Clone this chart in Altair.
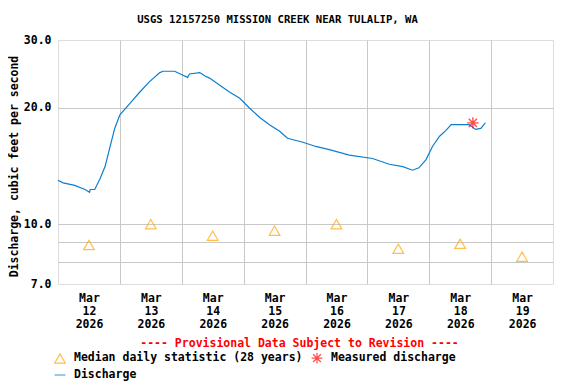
import altair as alt
import pandas as pd

TITLE = "USGS 12157250 MISSION CREEK NEAR TULALIP, WA"
Y_TITLE = "Discharge, cubic feet per second"
NOTE = "---- Provisional Data Subject to Revision ----"
SERIES = ["Median daily statistic (28 years)", "Measured discharge", "Discharge"]

discharge_time = [
    "2026-03-12T00:00", "2026-03-12T02:00", "2026-03-12T06:30", "2026-03-12T10:30",
    "2026-03-12T12:15", "2026-03-12T12:30", "2026-03-12T14:15", "2026-03-12T16:15",
    "2026-03-12T18:15", "2026-03-12T20:00", "2026-03-12T22:00", "2026-03-13T00:00",
    "2026-03-13T04:00", "2026-03-13T07:45", "2026-03-13T11:30", "2026-03-13T15:30",
    "2026-03-13T16:45", "2026-03-13T21:15", "2026-03-14T00:30", "2026-03-14T02:15",
    "2026-03-14T03:00", "2026-03-14T07:00", "2026-03-14T09:00", "2026-03-14T10:45",
    "2026-03-14T14:45", "2026-03-14T18:30", "2026-03-14T22:30", "2026-03-15T02:15",
    "2026-03-15T06:15", "2026-03-15T10:00", "2026-03-15T14:00", "2026-03-15T17:00",
    "2026-03-15T23:00", "2026-03-16T04:00", "2026-03-16T09:15", "2026-03-16T17:00",
    "2026-03-17T02:00", "2026-03-17T08:30", "2026-03-17T13:45", "2026-03-17T17:30",
    "2026-03-17T20:00", "2026-03-17T22:45", "2026-03-18T01:15", "2026-03-18T04:00",
    "2026-03-18T06:30", "2026-03-18T08:30", "2026-03-18T15:30", "2026-03-18T18:00",
    "2026-03-18T20:00", "2026-03-18T21:45",
]
discharge_cfs = [
    13.0, 12.8, 12.6, 12.3,
    12.1, 12.3, 12.3, 13.1,
    14.1, 15.7, 17.7, 19.2,
    20.6, 22.0, 23.4, 24.7,
    24.9, 24.9, 24.3, 24.0,
    24.5, 24.7, 24.2, 23.9,
    22.9, 22.0, 21.2, 20.0,
    18.9, 18.1, 17.4, 16.7,
    16.3, 15.9, 15.6, 15.1,
    14.8, 14.3, 14.1, 13.8,
    14.0, 14.7, 15.9, 16.9,
    17.5, 18.1, 18.1, 17.6,
    17.7, 18.3,
]

median_time = [
    "2026-03-12T12:00", "2026-03-13T12:00", "2026-03-14T12:00", "2026-03-15T12:00",
    "2026-03-16T12:00", "2026-03-17T12:00", "2026-03-18T12:00", "2026-03-19T12:00",
]
median_cfs = [8.83, 10.0, 9.34, 9.62, 10.0, 8.64, 8.90, 8.24]

measured_time = ["2026-03-18T16:55"]
measured_cfs = [18.3]

FONT = "DejaVu Sans Mono"
FS = 11.5
ASTERISK = "M-1,0L1,0M0,-1L0,1M-0.72,-0.72L0.72,0.72M-0.72,0.72L0.72,-0.72"

df_q = pd.DataFrame({"time": discharge_time, "cfs": discharge_cfs, "series": SERIES[2]})
df_m = pd.DataFrame({"time": median_time, "cfs": median_cfs, "series": SERIES[0]})
df_s = pd.DataFrame({"time": measured_time, "cfs": measured_cfs, "series": SERIES[1]})

color_scale = alt.Scale(domain=SERIES, range=["#ffa500", "#ff0000", "#0a7fd0"])
shape_scale = alt.Scale(domain=SERIES, range=["triangle-up", ASTERISK, "stroke"])

legend = alt.Legend(
    title=None, orient="none", legendX=-4, legendY=312, columns=2,
    direction="horizontal", padding=0, rowPadding=3, columnPadding=6,
    labelFont=FONT, labelFontSize=FS, labelFontWeight="bold", labelColor="black",
    labelOffset=8, symbolSize=115, symbolStrokeWidth=1.2, labelLimit=400,
)

day_ticks = [alt.DateTime(year=2026, month=3, date=d) for d in range(12, 20)]

x = alt.X(
    "time:T",
    scale=alt.Scale(domain=[alt.DateTime(year=2026, month=3, date=12),
                            alt.DateTime(year=2026, month=3, date=20)]),
    axis=alt.Axis(
        values=day_ticks,
        labelExpr="[timeFormat(datum.value, '%b'), timeFormat(datum.value, '%d'), timeFormat(datum.value, '%Y')]",
        labelOffset=31, labelPadding=8, labelLineHeight=13, labelBaseline="top",
        labelFont=FONT, labelFontSize=FS, labelFontWeight="bold", labelColor="black",
        labelOverlap=False, labelFlush=False,
        ticks=False, domain=False,
        grid=True, gridColor="#c8c8c8",
        gridOpacity={"condition": {"test": "datum.value < time(datetime(2026, 2, 12, 1))", "value": 0}, "value": 1},
        title=NOTE, titleColor="#ff0000", titleFont=FONT, titleFontSize=FS,
        titleFontWeight="bold", titleX=241, titleY=59, titleBaseline="middle",
        titleAlign="center",
    ),
)
y = alt.Y(
    "cfs:Q",
    scale=alt.Scale(type="log", domain=[7, 30], nice=False),
    axis=alt.Axis(
        values=[7, 8, 9, 10, 20, 30],
        labelExpr="datum.value == 8 || datum.value == 9 ? '' : format(datum.value, '.1f')",
        labelPadding=7, labelFont=FONT, labelFontSize=FS, labelFontWeight="bold",
        labelColor="black", labelOverlap=False, labelFlush=False,
        ticks=False, domain=False,
        grid=True, gridColor="#c8c8c8",
        gridOpacity={"condition": {"test": "datum.value == 7 || datum.value == 30", "value": 0}, "value": 1},
        title=Y_TITLE, titleFont=FONT, titleFontSize=FS, titleFontWeight="bold",
        titleColor="black", titleX=-44, titleY=126, titleAngle=-90,
        titleBaseline="middle", titleAlign="center",
    ),
)

color = alt.Color("series:N", scale=color_scale, legend=legend)
shape = alt.Shape("series:N", scale=shape_scale, legend=legend)

line = alt.Chart(df_q).mark_line(strokeWidth=1.2).encode(x=x, y=y, color=color)
medians = alt.Chart(df_m).mark_point(filled=False, size=115, strokeWidth=1.2).encode(
    x=x, y=y, color=color, shape=shape)
measured = alt.Chart(df_s).mark_point(filled=False, size=130, strokeWidth=1.3).encode(
    x=x, y=y, color=color, shape=shape)

chart = alt.layer(line, medians, measured).properties(
    width=495, height=244,
    title=alt.TitleParams(TITLE, font=FONT, fontSize=10.6, fontWeight="bold",
                          color="black", offset=8, anchor="middle", dx=-28),
    autosize=alt.AutoSizeParams(type="none"),
    padding={"left": 50, "top": 32, "right": 10, "bottom": 100},
).configure_view(stroke="black", strokeWidth=1).configure(background="white")

chart.save("out.html", embed_options={"renderer": "svg", "actions": False})
